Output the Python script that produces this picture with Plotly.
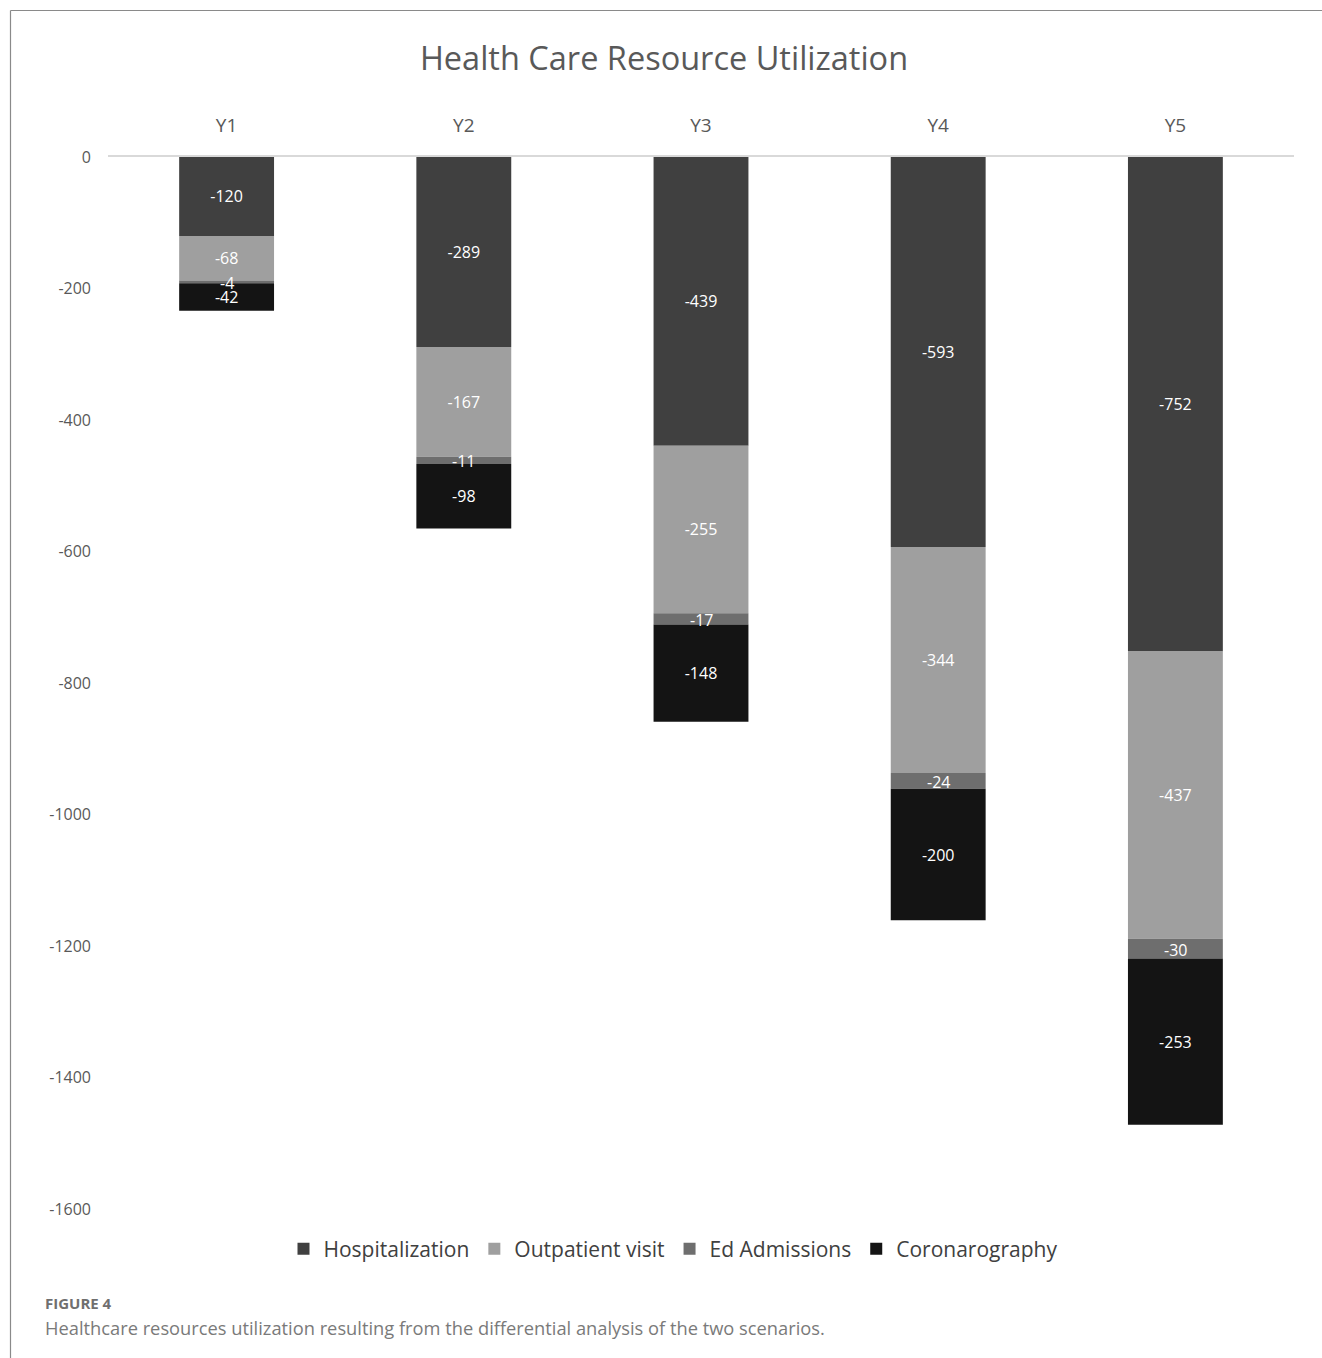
import plotly.graph_objects as go

# Years of the differential analysis
years = ["Y1", "Y2", "Y3", "Y4", "Y5"]

# Resource utilization differences per component (stacked downward)
hospitalization = [-120, -289, -439, -593, -752]
outpatient_visit = [-68, -167, -255, -344, -437]
ed_admissions = [-4, -11, -17, -24, -30]
coronarography = [-42, -98, -148, -200, -253]

y_ticks = [0, -200, -400, -600, -800, -1000, -1200, -1400, -1600]

series = [
    ("Hospitalization", hospitalization, "#404040"),
    ("Outpatient visit", outpatient_visit, "#9f9f9f"),
    ("Ed Admissions", ed_admissions, "#6e6e6e"),
    ("Coronarography", coronarography, "#141414"),
]

W, H = 1322, 1358
L, R, T, B = 108, 1294, 157, 1209  # plot area in pixels


def px_x(x):
    return (x - L) / (R - L)


def px_y(y):
    return (B - y) / (B - T)


FONT = "Open Sans"
LABEL_FONT = dict(color="white", size=16, family=FONT)

fig = go.Figure()
for name, vals, color in series:
    thin = name == "Ed Admissions"
    fig.add_trace(go.Bar(
        name=name,
        x=years,
        y=vals,
        text=None if thin else [str(v) for v in vals],
        texttemplate=None if thin else "%{text}",
        marker=dict(color=color, line=dict(width=0)),
        textposition="none" if thin else "inside",
        insidetextanchor="middle",
        textangle=0,
        textfont=LABEL_FONT,
    ))

# Labels of the thin Ed Admissions segments, placed at the segment centres
# and drawn above the neighbouring bars so they stay readable
for yr, h, o, e in zip(years, hospitalization, outpatient_visit, ed_admissions):
    fig.add_annotation(x=yr, y=h + o + e / 2, text=str(e), showarrow=False,
                       xref="x", yref="y", yanchor="middle", yshift=-1,
                       font=LABEL_FONT)

fig.update_layout(
    width=W,
    height=H,
    margin=dict(l=L, r=W - R, t=T, b=H - B),
    barmode="relative",
    bargap=0.6,
    plot_bgcolor="white",
    paper_bgcolor="white",
    font=dict(family=FONT, color="#595959"),
    uniformtext=dict(minsize=16, mode="show"),
    title=dict(
        text="Health Care Resource Utilization",
        font=dict(size=32.5, color="#595959", family=FONT),
        xref="container", x=664 / W, xanchor="center",
        yref="container", y=1 - 59 / H, yanchor="middle",
    ),
    xaxis=dict(
        side="top",
        showgrid=False,
        showline=True,
        linecolor="#d9d9d9",
        linewidth=2,
        ticks="",
        tickfont=dict(size=19, color="#595959"),
        ticklabelstandoff=15,
    ),
    yaxis=dict(
        range=[-1600, 0],
        tickvals=y_ticks,
        ticktext=[str(v) for v in y_ticks],
        showgrid=False,
        zeroline=False,
        showline=False,
        ticks="",
        tickfont=dict(size=16, color="#595959"),
        ticklabelstandoff=16,
    ),
    legend=dict(
        orientation="h",
        x=px_x(673), xanchor="center",
        y=px_y(1249), yanchor="middle",
        font=dict(size=21, color="#404040"),
        traceorder="normal",
    ),
    showlegend=True,
)

# Frame lines around the figure
fig.add_shape(type="line", xref="paper", yref="paper",
              x0=px_x(10.5), x1=px_x(1322), y0=px_y(10.5), y1=px_y(10.5),
              line=dict(color="#8a8a8a", width=1.2))
fig.add_shape(type="line", xref="paper", yref="paper",
              x0=px_x(10.5), x1=px_x(10.5), y0=px_y(10.5), y1=px_y(1358),
              line=dict(color="#8a8a8a", width=1.2))

# Figure caption
fig.add_annotation(text="<b>FIGURE 4</b>", xref="paper", yref="paper",
                   x=px_x(43), y=px_y(1303), xanchor="left", yanchor="middle",
                   showarrow=False, font=dict(size=15, color="#6f6f6f", family=FONT))
fig.add_annotation(text="Healthcare resources utilization resulting from the differential analysis of the two scenarios.",
                   xref="paper", yref="paper",
                   x=px_x(43), y=px_y(1327), xanchor="left", yanchor="middle",
                   showarrow=False, font=dict(size=18.3, color="#7a7a7a", family=FONT))

fig.write_html("out.html")
